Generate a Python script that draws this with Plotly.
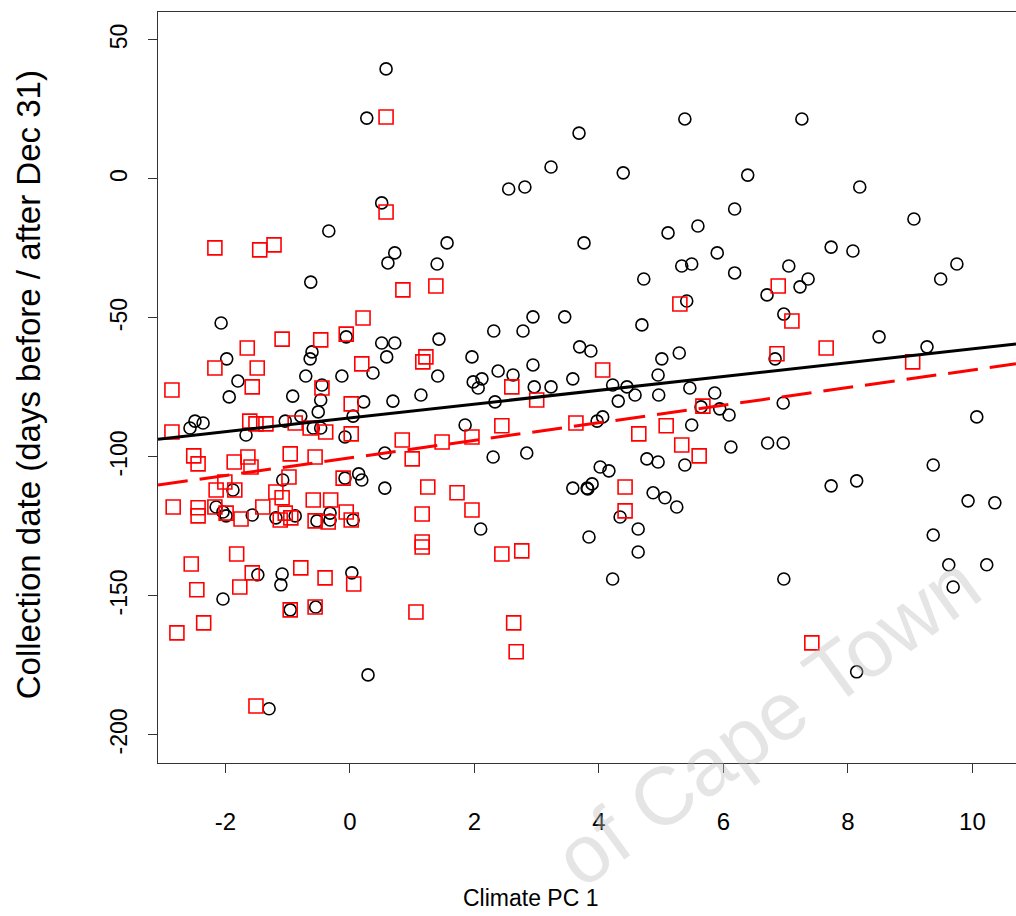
import plotly.graph_objects as go

# ---- data (Climate PC 1 vs collection date) ----
black_x = [0.58, 0.27, 3.68, 5.38, 7.26, 3.23, 4.39, 6.39, 2.55, 2.81, 8.19, 0.51, 6.18, 9.06, -0.34,
           1.56, 3.76, 5.11, 5.59, 0.72, 0.61, 1.40, 5.33, 5.49, 5.90, 7.73, 8.08, 9.75, -0.63, 4.72,
           6.18, 7.05, 7.36, 9.49, 6.70, 7.23, 5.41, 4.69, 6.97, -2.07, -0.06, -0.61, -0.64, -1.98, 0.37,
           -0.71, -0.13, -1.80, -0.45, -1.94, -0.92, -0.47, -0.51, 0.22, 0.05, -2.49, -2.36, -2.57, -1.67, -1.04,
           -0.79, -0.59, -0.47, -0.08, 0.14, 0.19, -1.08, -0.08, -1.88, -2.15, -2.04, -0.32, 2.94, 3.45, 2.31,
           2.78, 0.51, 0.72, 1.43, 0.59, 1.96, 2.94, 3.69, 3.87, 1.41, 2.38, 2.62, 1.98, 2.12, 2.06,
           2.96, 3.23, 3.58, 1.14, 0.69, 2.33, 1.85, 0.56, 2.30, 2.84, 0.56, 3.58, 3.81, 5.01, 5.29,
           6.83, 4.95, 4.22, 4.45, 4.58, 4.31, 4.96, 5.46, 5.86, 5.64, 5.94, 6.09, 6.96, 4.06, 3.97,
           5.49, 6.12, 6.71, 6.96, 4.77, 4.95, 5.38, 4.02, 4.16, 3.89, 3.82, 4.87, 5.06, 5.25, 8.50,
           9.27, 10.07, 9.37, 7.73, 8.14, 9.93, 10.36, 9.37, 9.62, 10.23, 9.69, 8.14, 4.34, 3.84, 4.63,
           4.63, 4.22, 6.97, 2.10, -1.48, -1.09, -1.11, 0.03, -2.04, -0.96, -0.55, 0.29, -1.30, -1.99, -1.57,
           -1.19, -0.88, -0.53, -0.32, 0.05]
black_y = [39.6, 21.9, 16.5, 21.6, 21.6, 4.3, 2.2, 1.4, -3.6, -2.9, -2.9, -8.6, -10.8, -14.4, -18.7,
           -23.0, -23.0, -19.4, -16.9, -26.6, -30.2, -30.6, -31.3, -30.6, -26.6, -24.5, -25.9, -30.6, -37.1, -36.0,
           -33.8, -31.3, -36.0, -36.0, -41.7, -38.8, -43.9, -52.5, -48.6, -51.8, -56.8, -62.2, -64.7, -64.7, -69.8,
           -70.9, -70.9, -72.7, -74.1, -78.4, -78.1, -79.5, -83.8, -80.2, -85.3, -87.1, -87.8, -89.6, -92.1, -87.1,
           -85.3, -89.6, -89.6, -92.8, -106.1, -108.3, -108.3, -107.6, -111.9, -118.0, -119.8, -120.2, -49.6, -49.6, -54.7,
           -54.7, -59.0, -59.0, -57.6, -64.0, -64.0, -66.9, -60.4, -61.9, -70.9, -69.1, -70.5, -73.0, -71.9, -75.2,
           -74.8, -74.8, -71.9, -77.7, -79.9, -80.2, -88.5, -98.6, -100.0, -98.6, -111.2, -111.2, -111.2, -64.7, -62.6,
           -64.7, -70.5, -74.1, -74.8, -77.7, -79.9, -77.7, -75.2, -77.0, -82.0, -82.7, -84.9, -80.6, -85.6, -87.1,
           -88.5, -96.4, -95.0, -95.0, -100.7, -101.8, -102.9, -103.6, -105.0, -109.7, -111.5, -112.9, -114.7, -118.0, -56.8,
           -60.4, -85.6, -102.9, -110.4, -108.6, -115.8, -116.5, -128.1, -138.8, -138.8, -146.8, -177.3, -121.6, -128.8, -125.9,
           -134.2, -143.9, -143.9, -125.9, -142.4, -142.1, -146.0, -141.7, -151.1, -155.0, -154.0, -178.4, -190.6, -121.2, -120.9,
           -121.9, -121.2, -123.0, -122.7, -122.7]

red_x = [0.58, 0.58, -2.17, -1.45, -1.22, 0.21, -0.06, -1.09, -0.47, -1.65, -2.17, -1.49, 0.19, -1.57, -0.45,
         -2.86, 0.02, -2.86, -1.61, -1.51, -1.35, -0.88, -0.64, -0.39, 0.02, -2.51, -2.44, -1.86, -1.64, -1.59,
         -0.96, -0.56, -0.98, -0.11, -2.01, -2.15, -1.85, -1.19, -1.09, -2.84, -2.44, -2.17, -1.40, -0.59, -0.31,
         -0.06, -1.04, -2.55, -1.82, -1.57, -0.79, -0.40, 0.06, -2.46, -1.77, -0.96, -0.56, -2.35, -2.78, -1.51,
         -2.44, -1.99, -1.75, -1.12, -0.95, -0.56, -0.35, 0.02, 0.85, 1.38, 1.22, 1.17, 2.60, 3.00, 1.96,
         2.44, 3.63, 0.84, 1.48, 1.00, 1.25, 1.72, 1.96, 1.16, 1.16, 1.16, 2.44, 2.76, 1.06, 2.63,
         2.67, 5.30, 6.88, 7.10, 4.06, 6.86, 5.67, 4.64, 5.08, 5.33, 5.61, 4.42, 4.42, 7.65, 9.04,
         7.42]
red_y = [22.3, -11.9, -24.8, -25.5, -23.7, -50.0, -55.8, -57.6, -57.9, -60.8, -68.0, -68.0, -66.5, -74.8, -75.2,
         -75.9, -80.9, -91.0, -87.1, -88.1, -88.1, -87.8, -89.6, -91.0, -91.7, -99.6, -102.5, -101.8, -100.0, -103.6,
         -98.9, -100.0, -107.2, -107.6, -109.0, -111.9, -111.9, -112.6, -114.7, -118.0, -118.3, -118.0, -118.0, -115.5, -115.5,
         -119.8, -120.2, -138.5, -134.9, -141.7, -139.9, -143.5, -145.7, -147.8, -146.8, -155.0, -154.0, -159.7, -163.3, -189.6,
         -121.2, -120.2, -122.3, -122.7, -121.9, -123.0, -123.4, -122.7, -39.9, -38.5, -64.0, -65.8, -74.8, -79.5, -92.8,
         -88.8, -87.8, -93.9, -94.6, -100.7, -110.8, -112.9, -119.1, -120.5, -130.6, -132.4, -134.9, -133.8, -155.8, -159.7,
         -170.1, -45.0, -38.5, -51.1, -68.7, -62.9, -81.7, -91.7, -88.8, -95.7, -99.6, -110.8, -119.4, -60.8, -65.8,
         -166.9]

# fitted lines (end points across the plotting region)
line_x = [-3.084, 10.70]
black_line_y = [-93.6, -59.4]
red_line_y = [-110.1, -66.5]

x_ticks = [-2, 0, 2, 4, 6, 8, 10]
y_ticks = [-200, -150, -100, -50, 0, 50]

FONT = "Liberation Sans, Arial, sans-serif"

fig = go.Figure()
fig.add_trace(go.Scatter(x=black_x, y=black_y, mode="markers",
                         marker=dict(symbol="circle-open", size=12, color="black", line=dict(width=1.6)),
                         showlegend=False, cliponaxis=True))
fig.add_trace(go.Scatter(x=red_x, y=red_y, mode="markers",
                         marker=dict(symbol="square-open", size=14, color="#ff0000", line=dict(width=1.6)),
                         showlegend=False, cliponaxis=True))
fig.add_trace(go.Scatter(x=line_x, y=black_line_y, mode="lines",
                         line=dict(color="black", width=3), showlegend=False))
fig.add_trace(go.Scatter(x=line_x, y=red_line_y, mode="lines",
                         line=dict(color="#ff0000", width=3, dash="30px,12px"), showlegend=False))

fig.update_layout(
    width=1016, height=916,
    margin=dict(l=158, r=0, t=12, b=153),
    paper_bgcolor="white", plot_bgcolor="white",
    font=dict(family=FONT, size=22, color="black"),
    xaxis=dict(range=[-3.084, 10.70], tickvals=x_ticks, ticktext=[str(v) for v in x_ticks],
               showgrid=False, zeroline=False, showline=True, mirror=True, linecolor="#333", linewidth=1,
               ticks="outside", ticklen=9, tickcolor="#333", tickwidth=1,
               tickfont=dict(size=24), ticklabelstandoff=28),
    yaxis=dict(range=[-210.1, 60.07], tickvals=y_ticks, ticktext=[str(v) for v in y_ticks],
               showgrid=False, zeroline=False, showline=True, mirror=False, linecolor="#333", linewidth=1,
               ticks="outside", ticklen=9, tickcolor="#333", tickwidth=1, tickangle=-90,
               tickfont=dict(size=23), ticklabelstandoff=12),
    annotations=[
        dict(text="Climate PC 1", xref="paper", yref="paper", x=0.4347, y=-0.18,
             showarrow=False, font=dict(size=23), xanchor="center", yanchor="middle"),
        dict(text="Collection date (days before / after Dec 31)", xref="paper", yref="paper",
             x=-0.1515, y=0.503, textangle=-90, showarrow=False, font=dict(size=33),
             xanchor="center", yanchor="middle"),
        dict(text="of Cape Town", xref="paper", yref="paper", x=0.71, y=0.057, textangle=-36,
             showarrow=False, font=dict(size=82, color="rgba(190,190,190,0.4)"),
             xanchor="center", yanchor="middle"),
    ],
)

fig.write_html("out.html")
